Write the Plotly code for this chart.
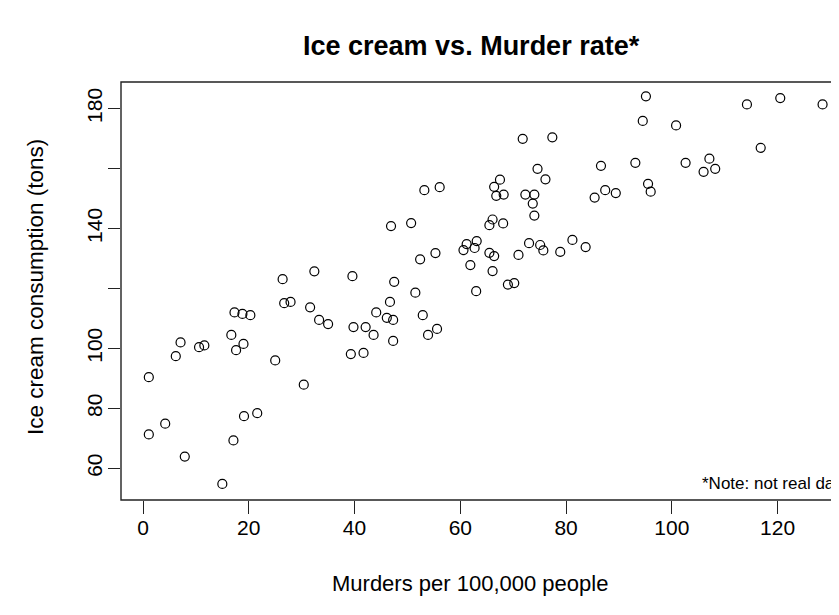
import plotly.graph_objects as go

# Murders per 100,000 people
murders = [
    26.4, 32.4, 39.6, 71.8, 77.4, 86.6, 74.6, 76.1, 67.5, 66.4,
    66.8, 68.2, 72.3, 74.0, 73.7, 74.0, 87.4, 85.4, 53.2, 56.1,
    46.9, 50.7, 66.1, 65.5, 68.1, 61.2, 63.1, 62.7, 60.6, 65.5,
    66.4, 71.0, 73.0, 75.1, 75.7, 78.9, 81.2, 83.7, 52.4, 55.3,
    61.9, 66.1, 69.0, 70.2, 47.5, 51.5, 63.0, 95.1, 94.5, 100.8,
    114.2, 120.5, 128.5, 116.8, 93.1, 102.6, 107.1, 108.2, 106.0, 89.4,
    95.5, 96.0, 26.7, 27.9, 31.6, 33.3, 35.0, 39.8, 42.1, 17.3,
    18.8, 20.3, 16.7, 7.1, 10.6, 11.6, 19.0, 17.6, 6.2, 25.0,
    39.3, 41.7, 1.1, 30.4, 19.1, 21.6, 4.2, 1.1, 17.1, 7.9,
    15.0, 46.7, 44.1, 46.1, 47.3, 43.6, 52.9, 55.6, 53.9, 47.3,
]
# Ice cream consumption (tons)
ice_cream = [
    123.1, 125.7, 124.1, 169.9, 170.4, 160.9, 159.9, 156.4, 156.3, 153.9,
    150.9, 151.3, 151.3, 151.3, 148.3, 144.3, 152.8, 150.3, 152.8, 153.8,
    140.8, 141.8, 143.0, 141.1, 141.7, 134.8, 135.8, 133.5, 132.8, 131.9,
    130.8, 131.2, 135.1, 134.5, 132.7, 132.2, 136.2, 133.8, 129.7, 131.8,
    127.8, 125.8, 121.3, 121.8, 122.2, 118.6, 119.1, 184.1, 175.9, 174.4,
    181.4, 183.5, 181.4, 166.9, 161.9, 161.9, 163.3, 159.9, 158.9, 151.8,
    154.9, 152.3, 115.1, 115.5, 113.7, 109.5, 108.1, 107.1, 107.1, 112.0,
    111.5, 111.1, 104.5, 102.0, 100.4, 101.0, 101.5, 99.4, 97.4, 96.0,
    98.1, 98.5, 90.4, 87.9, 77.4, 78.4, 74.9, 71.3, 69.3, 63.9,
    54.8, 115.5, 112.0, 110.2, 109.5, 104.5, 111.1, 106.5, 104.5, 102.5,
]

x_ticks = [0, 20, 40, 60, 80, 100, 120]
y_ticks = [60, 80, 100, 120, 140, 160, 180]
y_tick_text = ["60", "80", "100", "", "140", "", "180"]

FONT = "Liberation Sans, Arial, sans-serif"
PW, PH = 737, 418   # plot area size in px (extends past the window edge, as in R)
PL, PT = 121, 82    # plot area left/top in window px

fig = go.Figure()
fig.add_trace(go.Scatter(
    x=murders, y=ice_cream, mode="markers",
    marker=dict(symbol="circle-open", size=9, color="black",
                line=dict(width=1.2, color="black")),
    showlegend=False, cliponaxis=False,
))

fig.update_layout(
    width=850, height=599,
    margin=dict(l=113, r=0, t=74, b=107),
    paper_bgcolor="white", plot_bgcolor="white",
    font=dict(family=FONT, color="black"),
    xaxis=dict(range=[-4.16, 135.2], tickvals=x_ticks,
               ticktext=[str(v) for v in x_ticks],
               ticks="outside", ticklen=13, tickwidth=1.2, tickcolor="#222",
               showgrid=False, zeroline=False, showline=False,
               tickfont=dict(size=21, family=FONT), ticklabelstandoff=-4),
    yaxis=dict(range=[49.43, 188.87], tickvals=y_ticks, ticktext=y_tick_text,
               ticks="outside", ticklen=12, tickwidth=1.2, tickcolor="#222",
               showgrid=False, zeroline=False, showline=False,
               tickangle=-90, tickfont=dict(size=21, family=FONT),
               ticklabelstandoff=-2),
    shapes=[dict(type="rect", xref="paper", yref="paper",
                 x0=0, x1=1.05, y0=0, y1=1,
                 line=dict(color="#222", width=1.4), layer="above")],
    annotations=[
        dict(text="<b>Ice cream vs. Murder rate*</b>", xref="paper", yref="paper",
             x=(471 - PL) / PW, y=1 + (PT - 46) / PH, xanchor="center",
             yanchor="middle", showarrow=False,
             font=dict(size=27, family=FONT, color="black")),
        dict(text="Murders per 100,000 people", xref="paper", yref="paper",
             x=(470 - PL) / PW, y=-(583 - (PT + PH)) / PH, xanchor="center",
             yanchor="middle", showarrow=False,
             font=dict(size=22, family=FONT, color="black")),
        dict(text="Ice cream consumption (tons)", xref="paper", yref="paper",
             x=-(PL - 35) / PW, y=((PT + PH) - 287) / PH, xanchor="center",
             yanchor="middle", showarrow=False, textangle=-90,
             font=dict(size=22.5, family=FONT, color="black")),
        dict(text="*Note: not real data", xref="x", yref="y",
             x=105.3, y=55.1, xanchor="left", yanchor="middle",
             showarrow=False,
             font=dict(size=17, family=FONT, color="black")),
    ],
)

fig.write_html("out.html")
